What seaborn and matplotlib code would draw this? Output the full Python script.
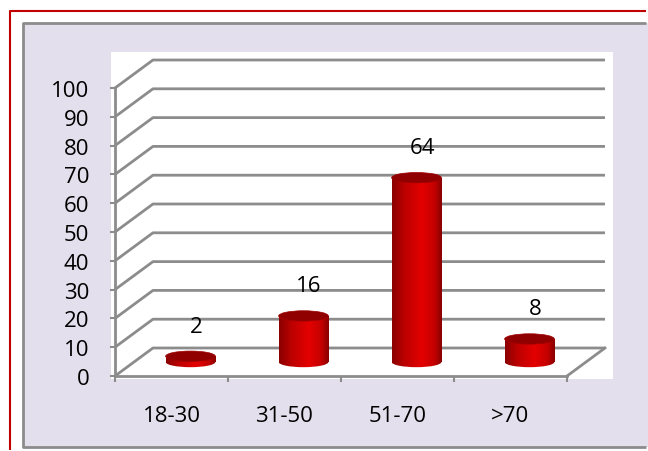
import numpy as np
import pandas as pd
import matplotlib
matplotlib.use("Agg")
import matplotlib.pyplot as plt
import seaborn as sns
from matplotlib.patches import Rectangle, Ellipse
from matplotlib.lines import Line2D
from matplotlib.colors import LinearSegmentedColormap

# data
groups = ["18-30", "31-50", "51-70", ">70"]
counts = [2, 16, 64, 8]
y_ticks = list(range(0, 101, 10))

W, H = 648, 452
GRAY = "#8C8C8C"
DX, DY = 0.336, 9.72      # depth of the 3d box in data units
EH = 3.6                  # ellipse height in value units
BAR_W = 0.44

plt.rcParams["font.family"] = ["Open Sans", "DejaVu Sans"]

fig = plt.figure(figsize=(W / 100, H / 100), dpi=100)


def box(x0, y0, x1, y1, **kw):
    # pixel box (top-left origin) -> figure rectangle, drawn behind the axes
    r = Rectangle((x0 / W, 1 - y1 / H), (x1 - x0) / W, (y1 - y0) / H,
                  transform=fig.transFigure, zorder=-5, **kw)
    fig.add_artist(r)


def edge(xs, ys, **kw):
    fig.add_artist(Line2D([x / W for x in xs], [1 - y / H for y in ys],
                          transform=fig.transFigure, zorder=-4,
                          solid_capstyle="butt", **kw))


# outer frame (only left and top edges are inside the image)
edge([10, 10, W - 2], [H - 1, 12, 12], color="#C00000", lw=1.5)
# lavender panel
box(23, 24, W, 448, facecolor="#E4DFEC", edgecolor="none")
edge([W - 2, 23, 23, W - 2], [24, 24, 448, 448], color=GRAY, lw=2)
# white plot area
box(111, 53, 613, 380, facecolor="white", edgecolor="none")

ax = fig.add_axes([0, 0, 1, 1])
ax.patch.set_alpha(0)

# back wall + side wall gridlines
for v in y_ticks:
    ax.plot([-0.5, -0.5 + DX, 3.5 + DX], [v, v + DY, v + DY],
            color=GRAY, lw=2, zorder=1, solid_capstyle="butt")
ax.plot([3.5, 3.5 + DX], [0, DY], color=GRAY, lw=2, zorder=1)

# cylinder bodies
pos = np.arange(len(groups)) + DX / 2
df = pd.DataFrame({"pos": pos, "count": counts})
sns.barplot(data=df, x="pos", y="count", native_scale=True, width=BAR_W,
            bottom=DY / 2, color="#C00000", errorbar=None, ax=ax, zorder=3)

cmap = LinearSegmentedColormap.from_list(
    "cyl", [(0, "#8A0000"), (0.25, "#BC0000"), (0.6, "#E40000"),
            (0.85, "#C40000"), (1, "#880000")])
grad = np.linspace(0, 1, 256).reshape(1, -1)

for bar in list(ax.patches):
    x, y = bar.get_x(), bar.get_y()
    w, h = bar.get_width(), bar.get_height()
    cx = x + w / 2
    bar.set_facecolor("none")
    bar.set_edgecolor("none")
    bottom_ell = Ellipse((cx, y), w, EH, facecolor="none", edgecolor="none")
    ax.add_patch(bottom_ell)
    for clip in (bar, bottom_ell):
        im = ax.imshow(grad, extent=[x, x + w, y - EH, y + h], aspect="auto",
                       cmap=cmap, zorder=3, interpolation="bilinear")
        im.set_clip_path(clip)
    ax.add_patch(Ellipse((cx, y + h), w, EH, facecolor="#900000",
                         edgecolor="#A00000", lw=0.5, zorder=4))

# value labels
for p, v in zip(pos, counts):
    ax.text(p + 0.05, v + DY / 2 + 10.5, str(v), ha="center", va="center",
            fontsize=16, zorder=5)

# front axes
for side in ("top", "right"):
    ax.spines[side].set_visible(False)
ax.spines["left"].set_position(("data", -0.5))
ax.spines["left"].set_bounds(0, 100)
ax.spines["bottom"].set_position(("data", 0))
ax.spines["bottom"].set_bounds(-0.5, 3.5)
for side in ("left", "bottom"):
    ax.spines[side].set_color(GRAY)
    ax.spines[side].set_linewidth(2)
    ax.spines[side].set_zorder(2)

ax.set_yticks(y_ticks)
ax.tick_params(axis="y", left=True, length=3.6, width=1.5, color=GRAY,
               pad=15, labelsize=16)
ax.set_xticks(np.arange(-0.5, len(groups), 1))
ax.set_xticklabels([])
ax.set_xticks(np.arange(len(groups)), minor=True)
ax.set_xticklabels(groups, minor=True)
ax.tick_params(axis="x", which="major", bottom=True, length=4.3, width=1.5,
               color=GRAY)
ax.tick_params(axis="x", which="minor", bottom=True, length=0, pad=21,
               labelsize=16)
ax.set_xlabel("")
ax.set_ylabel("")

ax.set_xlim(-0.5 - 115 / 113, -0.5 + (W - 115) / 113)
ax.set_ylim((377 - H) / 2.88, 377 / 2.88)

fig.savefig("out.png", dpi=100)
